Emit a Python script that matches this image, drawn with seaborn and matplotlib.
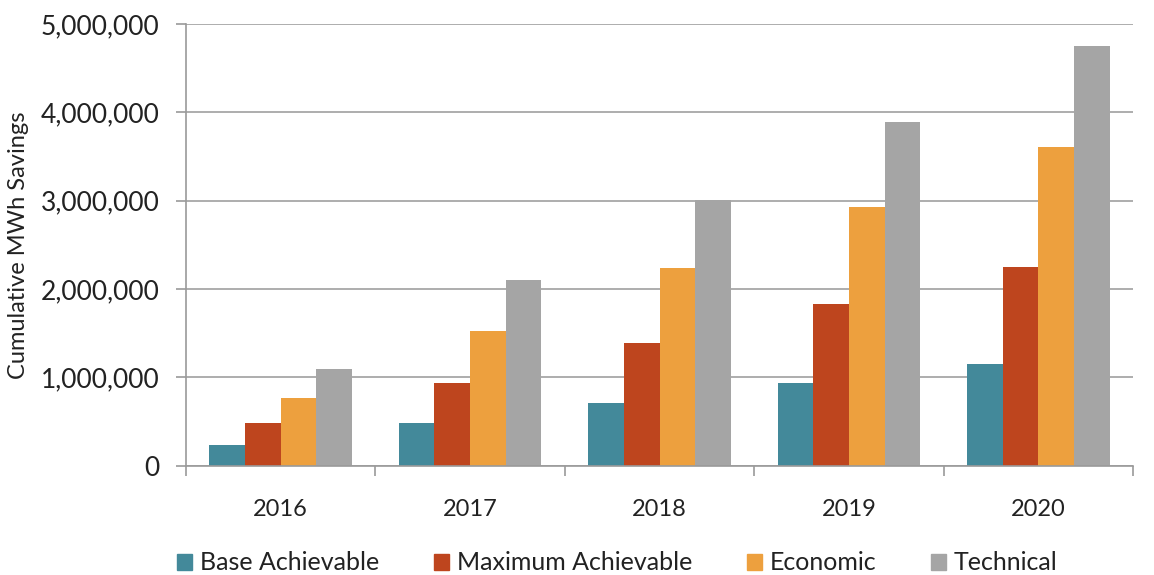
import matplotlib
matplotlib.use("Agg")
import matplotlib.pyplot as plt
import matplotlib.ticker as mticker
import seaborn as sns
import pandas as pd

years = ["2016", "2017", "2018", "2019", "2020"]
series = ["Base Achievable", "Maximum Achievable", "Economic", "Technical"]
base_achievable = [230000, 480000, 710000, 935000, 1157000]
maximum_achievable = [480000, 940000, 1390000, 1830000, 2250000]
economic = [770000, 1530000, 2240000, 2930000, 3610000]
technical = [1100000, 2100000, 3010000, 3890000, 4750000]
colors = ["#43899A", "#BE451E", "#EDA03E", "#A5A5A5"]

values = [base_achievable, maximum_achievable, economic, technical]
rows = []
for s, vals in zip(series, values):
    for y, v in zip(years, vals):
        rows.append({"Year": y, "Series": s, "Value": v})
df = pd.DataFrame(rows)

sns.set_style("white")
plt.rcParams["font.family"] = ["Lato", "DejaVu Sans"]

fig = plt.figure(figsize=(11.54, 5.75), dpi=100)
ax = fig.add_axes([0.161, 0.19, 0.821, 0.768])

sns.barplot(data=df, x="Year", y="Value", hue="Series", hue_order=series,
            order=years, palette=colors, width=0.75, gap=0, saturation=1,
            ax=ax, legend=False, errorbar=None, linewidth=0)

ax.set_ylim(0, 5000000)
ax.set_xlim(-0.5, 4.5)
ax.yaxis.set_major_locator(mticker.MultipleLocator(1000000))
ax.yaxis.set_major_formatter(mticker.FuncFormatter(lambda v, p: f"{int(v):,}"))
ax.grid(axis="y", color="#A0A0A0", linewidth=1.2)
ax.set_axisbelow(True)
for side in ["top", "right"]:
    ax.spines[side].set_visible(False)
for side in ["left", "bottom"]:
    ax.spines[side].set_color("#9A9A9A")
    ax.spines[side].set_linewidth(1.2)

ax.set_xlabel("")
ax.set_ylabel("Cumulative MWh Savings", fontsize=17, color="#222222", labelpad=8)
ax.tick_params(axis="y", labelsize=19, length=7, color="#9A9A9A", width=1.2, left=True, labelcolor="#222222", pad=12)
ax.tick_params(axis="x", which="major", labelsize=17, length=0, pad=24, labelcolor="#222222")
ax.set_xticks([i - 0.5 for i in range(6)], minor=True)
ax.tick_params(axis="x", which="minor", length=7, color="#9A9A9A", width=1.2, bottom=True)

handles = [plt.Rectangle((0, 0), 1, 1, color=c) for c in colors]
fig.legend(handles, series, loc="center", bbox_to_anchor=(0.535, 0.021), ncol=4,
           frameon=False, fontsize=18, handlelength=0.6, handleheight=0.6,
           handletextpad=0.3, columnspacing=2.2, labelcolor="#222222")

fig.savefig("out.png", dpi=100)
